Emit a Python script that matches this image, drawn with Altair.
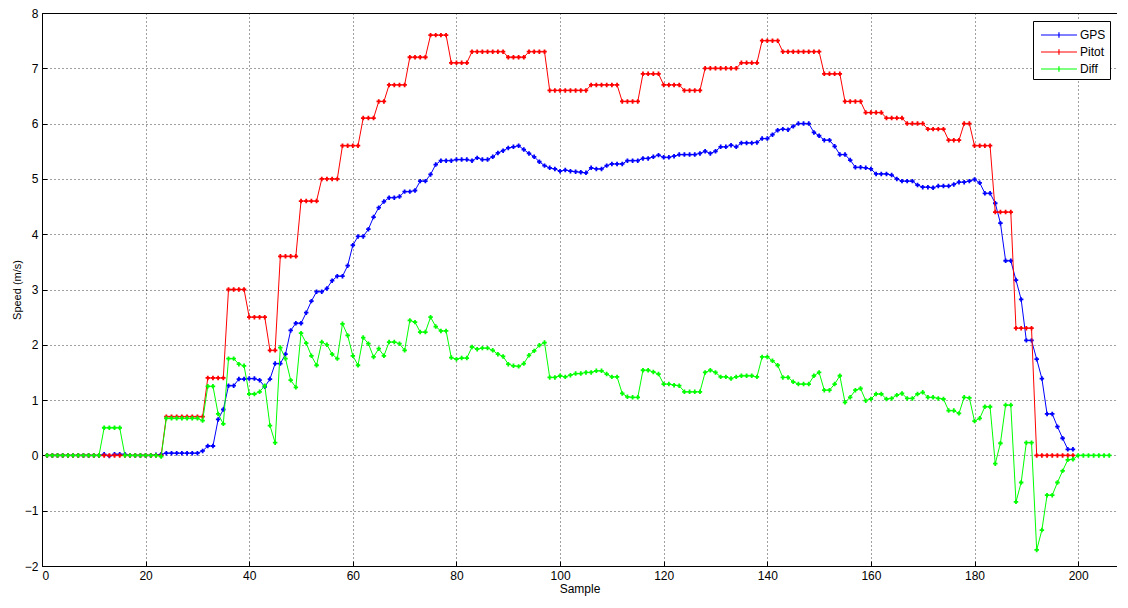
import altair as alt
import pandas as pd

series_names = ["GPS", "Pitot", "Diff"]
series_colors = ["#0000ff", "#ff0000", "#00ff00"]

gps = [
    0, 0, 0, 0, 0, 0, 0, 0, 0, 0, 0,
    0.02, -0.01, 0.02, 0.02, 0.02,
    0, 0, 0, 0, 0,
    0.01, 0.02,
    0.04, 0.04, 0.04, 0.04, 0.04, 0.04, 0.04,
    0.08, 0.17, 0.17, 0.65, 0.83, 1.26, 1.26, 1.38, 1.38, 1.39,
    1.39, 1.36, 1.24, 1.38, 1.66, 1.66, 1.83, 2.26, 2.39, 2.39,
    2.58, 2.79, 2.96, 2.96, 3.02, 3.16, 3.24, 3.24, 3.43, 3.80,
    3.96, 3.96, 4.09, 4.31, 4.48, 4.59, 4.66, 4.66, 4.68, 4.77,
    4.77, 4.79, 4.96, 4.96, 5.08, 5.26, 5.33, 5.33, 5.33, 5.35,
    5.35, 5.35, 5.33, 5.38, 5.35, 5.35, 5.40, 5.47, 5.51, 5.56,
    5.58, 5.60, 5.53, 5.46, 5.40, 5.31, 5.24, 5.20, 5.18, 5.14,
    5.16, 5.14, 5.13, 5.12, 5.11, 5.20, 5.18, 5.18, 5.24, 5.27,
    5.27, 5.27, 5.33, 5.33, 5.33, 5.37, 5.37, 5.40, 5.43, 5.39,
    5.39, 5.41, 5.44, 5.44, 5.44, 5.44, 5.46, 5.50, 5.46, 5.50,
    5.58, 5.58, 5.61, 5.58, 5.65, 5.65, 5.65, 5.66, 5.73, 5.73,
    5.80, 5.88, 5.90, 5.89, 5.95, 6.00, 6.00, 6.00, 5.84, 5.78,
    5.70, 5.70, 5.59, 5.44, 5.44, 5.34, 5.21, 5.21, 5.20, 5.18,
    5.09, 5.09, 5.09, 5.07, 5.00, 4.96, 4.96, 4.96, 4.89, 4.85,
    4.85, 4.84, 4.87, 4.87, 4.87, 4.90, 4.94, 4.94, 4.96, 4.99,
    4.93, 4.74, 4.74, 4.56, 4.20, 3.52, 3.52, 3.17, 2.82, 2.08,
    2.08, 1.74, 1.39, 0.75, 0.75, 0.52, 0.31, 0.11, 0.11,
]

pitot = [
    0, 0, 0, 0, 0, 0, 0, 0, 0, 0, 0, 0, 0, 0, 0, 0, 0, 0, 0, 0, 0, 0, 0,
    0.7, 0.7, 0.7, 0.7, 0.7, 0.7, 0.7, 0.7,
    1.4, 1.4, 1.4, 1.4,
    3.0, 3.0, 3.0, 3.0,
    2.5, 2.5, 2.5, 2.5,
    1.9, 1.9,
    3.6, 3.6, 3.6, 3.6,
    4.6, 4.6, 4.6, 4.6,
    5.0, 5.0, 5.0, 5.0,
    5.6, 5.6, 5.6, 5.6,
    6.1, 6.1, 6.1,
    6.4, 6.4,
    6.7, 6.7, 6.7, 6.7,
    7.2, 7.2, 7.2, 7.2,
    7.6, 7.6, 7.6, 7.6,
    7.1, 7.1, 7.1, 7.1,
    7.3, 7.3, 7.3, 7.3, 7.3, 7.3, 7.3,
    7.2, 7.2, 7.2, 7.2,
    7.3, 7.3, 7.3, 7.3,
    6.6, 6.6, 6.6, 6.6, 6.6, 6.6, 6.6, 6.6,
    6.7, 6.7, 6.7, 6.7, 6.7, 6.7,
    6.4, 6.4, 6.4, 6.4,
    6.9, 6.9, 6.9, 6.9,
    6.7, 6.7, 6.7, 6.7,
    6.6, 6.6, 6.6, 6.6,
    7.0, 7.0, 7.0, 7.0, 7.0, 7.0, 7.0,
    7.1, 7.1, 7.1, 7.1,
    7.5, 7.5, 7.5, 7.5,
    7.3, 7.3, 7.3, 7.3, 7.3, 7.3, 7.3, 7.3,
    6.9, 6.9, 6.9, 6.9,
    6.4, 6.4, 6.4, 6.4,
    6.2, 6.2, 6.2, 6.2,
    6.1, 6.1, 6.1, 6.1,
    6.0, 6.0, 6.0, 6.0,
    5.9, 5.9, 5.9, 5.9,
    5.7, 5.7, 5.7,
    6.0, 6.0,
    5.6, 5.6, 5.6, 5.6,
    4.4, 4.4, 4.4, 4.4,
    2.3, 2.3, 2.3, 2.3,
    0, 0, 0, 0, 0, 0, 0, 0,
]

diff = [
    0, 0, 0, 0, 0, 0, 0, 0, 0, 0, 0,
    0.5, 0.5, 0.5, 0.5,
    0, 0, 0, 0, 0, 0, 0,
    -0.02,
    0.67, 0.67, 0.67, 0.67, 0.67, 0.67, 0.67,
    0.63, 1.25, 1.25, 0.75, 0.57, 1.75, 1.75, 1.65, 1.62, 1.11,
    1.11, 1.15, 1.26, 0.54, 0.23, 1.95, 1.75, 1.36, 1.23, 2.21,
    2.03, 1.80, 1.63, 2.05, 2.00, 1.83, 1.75, 2.38, 2.17, 1.80,
    1.63, 2.13, 2.02, 1.78, 1.93, 1.80, 2.05, 2.05, 2.02, 1.90,
    2.44, 2.41, 2.23, 2.23, 2.50, 2.33, 2.25, 2.25, 1.77, 1.74,
    1.76, 1.76, 1.96, 1.92, 1.94, 1.94, 1.90, 1.83, 1.79, 1.65,
    1.62, 1.61, 1.66, 1.81, 1.89, 1.99, 2.04, 1.41, 1.41, 1.44,
    1.42, 1.45, 1.48, 1.48, 1.50, 1.50, 1.53, 1.53, 1.47, 1.42,
    1.42, 1.12, 1.06, 1.05, 1.05, 1.54, 1.54, 1.51, 1.47, 1.29,
    1.29, 1.27, 1.26, 1.15, 1.15, 1.15, 1.15, 1.50, 1.54, 1.50,
    1.42, 1.42, 1.39, 1.42, 1.44, 1.44, 1.44, 1.42, 1.78, 1.78,
    1.71, 1.63, 1.41, 1.41, 1.33, 1.29, 1.29, 1.29, 1.44, 1.50,
    1.18, 1.18, 1.29, 1.44, 0.96, 1.05, 1.18, 1.21, 0.99, 1.02,
    1.11, 1.11, 1.02, 1.03, 1.09, 1.12, 1.03, 1.03, 1.11, 1.14,
    1.05, 1.05, 1.03, 1.02, 0.81, 0.81, 0.76, 1.05, 1.04, 0.62,
    0.67, 0.88, 0.88, -0.15, 0.22, 0.91, 0.91, -0.84, -0.49, 0.23,
    0.23, -1.71, -1.35, -0.72, -0.72, -0.49, -0.28, -0.08, -0.07, 0,
    0, 0, 0, 0, 0, 0,
]

x_ticks = [0, 20, 40, 60, 80, 100, 120, 140, 160, 180, 200]
y_ticks = [-2, -1, 0, 1, 2, 3, 4, 5, 6, 7, 8]

rows = []
for name, vals in zip(series_names, [gps, pitot, diff]):
    for i, v in enumerate(vals):
        rows.append({"Sample": i + 1, "Speed": v, "series": name})
df = pd.DataFrame(rows)

FONT = "Liberation Sans"

color_scale = alt.Scale(domain=series_names, range=series_colors)

x_enc = alt.X(
    "Sample:Q",
    scale=alt.Scale(domain=[0, 207.5], nice=False, zero=False),
    axis=alt.Axis(values=x_ticks, title="Sample", labelPadding=4, titlePadding=2,
                  ticks=True, tickSize=5, tickColor="#000000", tickWidth=1,
                  offset=-5, domain=False, format="d"),
)
y_enc = alt.Y(
    "Speed:Q",
    scale=alt.Scale(domain=[-2, 8], nice=False),
    axis=alt.Axis(values=y_ticks, title="Speed (m/s)", labelPadding=4, titlePadding=2,
                  titleFontSize=11,
                  ticks=True, tickSize=5, tickColor="#000000", tickWidth=1,
                  offset=-5, domain=False, format="d"),
)
color_enc = alt.Color(
    "series:N",
    scale=color_scale,
    sort=series_names,
    legend=alt.Legend(
        title=None, orient="none", legendX=991, legendY=8,
        strokeColor="#000000", fillColor="#ffffff", padding=4,
        symbolType="M-0.67,0L3.33,0M1.33,-0.3L1.33,0.3M1.03,0L1.63,0",
        symbolSize=324, symbolStrokeWidth=1.2,
        labelFont=FONT, labelFontSize=12, labelColor="#000000",
        rowPadding=1, labelOffset=23,
    ),
)

base = alt.Chart(df).mark_line(
    strokeWidth=1,
    point=alt.OverlayMarkDef(shape="cross", size=20, filled=True),
).encode(x=x_enc, y=y_enc, color=color_enc)

layers = [
    base.transform_filter(alt.datum.series == name) for name in series_names
]

chart = alt.layer(*layers).properties(
    width=1075,
    height=553,
    autosize=alt.AutoSizeParams(type="none"),
    padding={"left": 34, "top": 5, "right": 0, "bottom": 30},
).configure_view(
    stroke="#000000", strokeWidth=1
).configure_axis(
    grid=True,
    gridColor="#000000",
    gridDash=[1, 3],
    gridOpacity=0.75,
    gridWidth=1,
    labelFont=FONT,
    labelFontSize=12,
    labelColor="#000000",
    titleFont=FONT,
    titleFontSize=12,
    titleFontWeight="normal",
    titleColor="#000000",
)

chart.save("out.html", embed_options={"renderer": "svg", "actions": False})
